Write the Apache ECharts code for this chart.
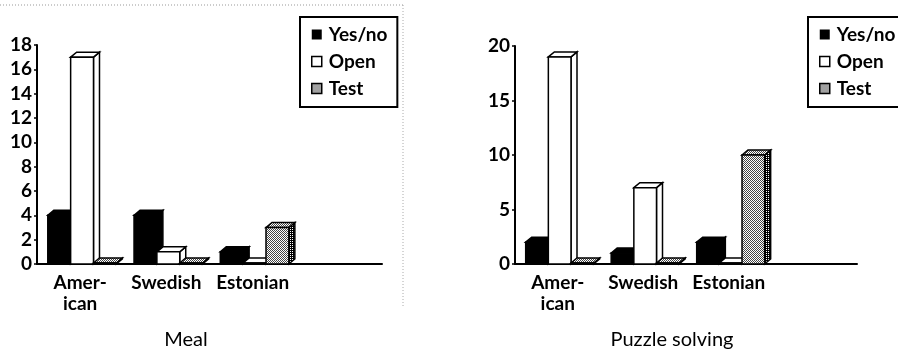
<!DOCTYPE html>
<html>
<head>
<meta charset="utf-8">
<script src="https://cdn.jsdelivr.net/npm/echarts@6/dist/echarts.min.js"></script>
<style>
  html, body { margin: 0; padding: 0; background: #fff; }
  #chart { width: 898px; height: 351px; }
</style>
</head>
<body>
<div id="chart"></div>
<script>
// categories (last one is an empty slot, the axis runs on past Estonian)
const categories = ['Amer-\nican', 'Swedish', 'Estonian', '']
const seriesNames = ['Yes/no', 'Open', 'Test']

// Meal
const mealYesNo = [4, 4, 1]
const mealOpen = [17, 1, 0]
const mealTest = [0, 0, 3]

// Puzzle solving
const puzzleYesNo = [2, 1, 2]
const puzzleOpen = [19, 7, 0]
const puzzleTest = [0, 0, 10]

const font = 'Lato'

// dithered grey like the old print
const makePattern = (dark) => {
  const c = document.createElement('canvas')
  c.width = 2
  c.height = 2
  const ctx = c.getContext('2d')
  ctx.fillStyle = '#fff'
  ctx.fillRect(0, 0, 2, 2)
  ctx.fillStyle = dark ? '#000' : '#444'
  ctx.fillRect(0, 0, 1, 1)
  ctx.fillRect(1, 1, 1, 1)
  if (dark) ctx.fillRect(1, 0, 1, 1)
  return {image: c, repeat: 'repeat'}
}
const greyFront = makePattern(false)
const greySide = makePattern(true)

const faces = {
  'Yes/no': {front: '#000', top: '#000', side: '#000'},
  'Open': {front: '#fff', top: '#fff', side: '#fff'},
  'Test': {front: greyFront, top: greyFront, side: greySide},
}

const DX = 6
const DY = 5

const bar3d = (idx, name) => (params, api) => {
  const cat = api.value(0)
  const val = api.value(1)
  const base = api.coord([cat, 0])
  const top = api.coord([cat, val])
  const band = api.size([1, 0])[0]
  const w = band * 0.265
  const x0 = base[0] - band / 2 + band * 0.125 + idx * w
  const x1 = x0 + w
  const yb = base[1]
  const yt = Math.min(top[1], yb - 1)
  const f = faces[name]
  const stroke = {stroke: '#000', lineWidth: 1.5, lineJoin: 'miter'}
  return {
    type: 'group',
    children: [
      {
        type: 'polygon',
        shape: {points: [[x1, yt], [x1 + DX, yt - DY], [x1 + DX, yb - DY], [x1, yb]]},
        style: Object.assign({fill: f.side}, stroke)
      },
      {
        type: 'polygon',
        shape: {points: [[x0, yt], [x0 + DX, yt - DY], [x1 + DX, yt - DY], [x1, yt]]},
        style: Object.assign({fill: f.top}, stroke)
      },
      {
        type: 'rect',
        shape: {x: x0, y: yt, width: w, height: yb - yt},
        style: Object.assign({fill: f.front}, stroke)
      }
    ]
  }
}

const toData = (arr) => arr.map((v, i) => [i, v])

const makeSeries = (gridIdx, lists) => lists.map((arr, i) => ({
  name: seriesNames[i],
  type: 'custom',
  xAxisIndex: gridIdx,
  yAxisIndex: gridIdx,
  renderItem: bar3d(i, seriesNames[i]),
  itemStyle: {color: i === 0 ? '#000' : i === 1 ? '#fff' : '#888'},
  encode: {x: 0, y: 1},
  data: toData(arr),
  silent: true
}))

const legendData = [
  {name: 'Yes/no', itemStyle: {color: '#000', borderWidth: 0}},
  {name: 'Open', itemStyle: {color: '#fff', borderColor: '#000', borderWidth: 1.5}},
  {name: 'Test', itemStyle: {color: greyFront, borderColor: '#000', borderWidth: 1.5}},
]

const legendBase = {
  orient: 'vertical',
  icon: 'rect',
  itemWidth: 10,
  itemHeight: 10,
  itemGap: 8,
  padding: [8, 10, 9, 11],
  borderColor: '#000',
  borderWidth: 2,
  selectedMode: false,
  textStyle: {fontFamily: font, fontWeight: 'bold', fontSize: 19, color: '#000', padding: [0, 0, 0, 2]},
  data: legendData
}

const xAxisBase = {
  type: 'category',
  data: categories,
  boundaryGap: true,
  axisLine: {lineStyle: {color: '#000', width: 2}},
  axisTick: {show: false},
  axisLabel: {
    interval: 0,
    margin: 8,
    color: '#000',
    fontFamily: font,
    fontWeight: 'bold',
    fontSize: 19,
    lineHeight: 21
  }
}

const yAxisBase = {
  type: 'value',
  splitLine: {show: false},
  axisLine: {show: true, lineStyle: {color: '#000', width: 2}},
  axisTick: {show: true, length: 3, lineStyle: {color: '#000', width: 1.5}},
  axisLabel: {
    margin: 5,
    color: '#000',
    fontFamily: font,
    fontWeight: 'bold',
    fontSize: 19
  }
}

const chart = echarts.init(document.getElementById('chart'), null, {renderer: 'canvas'})

const option = {
  backgroundColor: '#fff',
  animation: false,
  title: [
    {text: 'Meal', left: 181, top: 325, textAlign: 'center',
      textStyle: {fontFamily: font, fontWeight: 'normal', fontSize: 20, color: '#000'}},
    {text: 'Puzzle solving', left: 667, top: 325, textAlign: 'center',
      textStyle: {fontFamily: font, fontWeight: 'normal', fontSize: 20, color: '#000'}}
  ],
  legend: [
    Object.assign({}, legendBase, {left: 300, top: 17}),
    Object.assign({}, legendBase, {left: 808, top: 17})
  ],
  grid: [
    {left: 37, top: 45, width: 345, height: 219, containLabel: false},
    {left: 515, top: 46, width: 342, height: 218, containLabel: false}
  ],
  xAxis: [
    Object.assign({}, xAxisBase, {gridIndex: 0}),
    Object.assign({}, xAxisBase, {gridIndex: 1})
  ],
  yAxis: [
    Object.assign({}, yAxisBase, {gridIndex: 0, min: 0, max: 18, interval: 2}),
    Object.assign({}, yAxisBase, {gridIndex: 1, min: 0, max: 20, interval: 5})
  ],
  graphic: [
    {type: 'line', shape: {x1: 0, y1: 5, x2: 403, y2: 5},
      style: {stroke: '#999', lineWidth: 1, lineDash: [1, 2]}},
    {type: 'line', shape: {x1: 403, y1: 5, x2: 403, y2: 308},
      style: {stroke: '#aaa', lineWidth: 1, lineDash: [1, 2]}}
  ],
  series: [
    ...makeSeries(0, [mealYesNo, mealOpen, mealTest]),
    ...makeSeries(1, [puzzleYesNo, puzzleOpen, puzzleTest])
  ]
}

chart.setOption(option)
</script>
</body>
</html>
